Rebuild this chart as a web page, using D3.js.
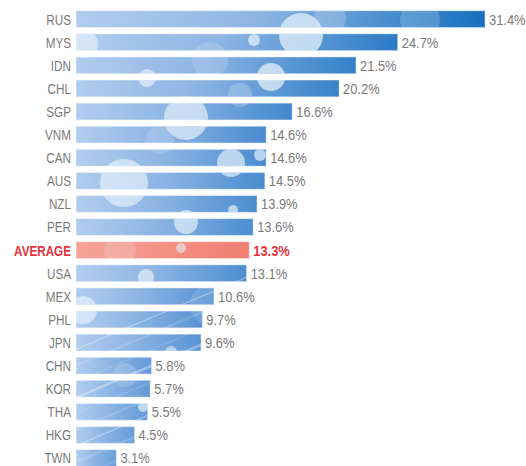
<!DOCTYPE html>
<html>
<head>
<meta charset="utf-8">
<script src="https://cdn.jsdelivr.net/npm/d3@7"></script>
<style>
  body { margin: 0; background: #fff; }
  text { font-family: "Liberation Sans", Arial, sans-serif; }
</style>
</head>
<body>
<div id="chart"></div>
<script>
const countries = ['RUS', 'MYS', 'IDN', 'CHL', 'SGP', 'VNM', 'CAN', 'AUS', 'NZL', 'PER', 'AVERAGE', 'USA', 'MEX', 'PHL', 'JPN', 'CHN', 'KOR', 'THA', 'HKG', 'TWN']
const values = [31.4, 24.7, 21.5, 20.2, 16.6, 14.6, 14.6, 14.5, 13.9, 13.6, 13.3, 13.1, 10.6, 9.7, 9.6, 5.8, 5.7, 5.5, 4.5, 3.1]
const highlight = 'AVERAGE'

const width = 526
const height = 466

const data = countries.map(function(c, i) {
  return { country: c, value: values[i] }
})

const xScale = d3.scaleLinear().domain([0, 31.4]).range([76, 485])
const yScale = d3.scaleBand().domain(countries).range([10.7, 466.5]).paddingInner(0.27).paddingOuter(0)
const endColor = d3.scaleLinear().domain([3, 31.4]).range(['#6c9edb', '#1670bf'])

const svg = d3.select('#chart').append('svg').attr('width', width).attr('height', height)
const defs = svg.append('defs')

// one gradient per bar, light on the left, deeper toward the end
data.forEach(function(d, i) {
  const g = defs.append('linearGradient').attr('id', 'grad' + i)
  if (d.country === highlight) {
    g.append('stop').attr('offset', '0%').attr('stop-color', '#f6a497')
    g.append('stop').attr('offset', '100%').attr('stop-color', '#f07e70')
  } else {
    g.append('stop').attr('offset', '0%').attr('stop-color', '#b1cdee')
    g.append('stop').attr('offset', '45%').attr('stop-color', '#8db5e4')
    g.append('stop').attr('offset', '100%').attr('stop-color', endColor(d.value))
  }
})

const clip = defs.append('clipPath').attr('id', 'barsClip')
clip.selectAll('rect').data(data).enter().append('rect')
  .attr('x', xScale(0))
  .attr('y', function(d) { return yScale(d.country) })
  .attr('width', function(d) { return xScale(d.value) - xScale(0) })
  .attr('height', yScale.bandwidth())

svg.selectAll('rect.bar').data(data)
    .enter()
  .append('rect')
    .attr('class', 'bar')
    .attr('x', xScale(0))
    .attr('y', function(d) { return yScale(d.country) })
    .attr('width', function(d) { return xScale(d.value) - xScale(0) })
    .attr('height', yScale.bandwidth())
    .attr('fill', function(d, i) { return 'url(#grad' + i + ')' })
    .attr('stroke', 'rgba(255,255,255,0.45)')
    .attr('stroke-width', 1)

// bokeh texture on top of the bars (pure decoration)
const deco = svg.append('g').attr('clip-path', 'url(#barsClip)')
const streakX = d3.range(-200, 560, 38)
deco.selectAll('line').data(streakX).enter().append('line')
  .attr('x1', function(d) { return d })
  .attr('y1', height)
  .attr('x2', function(d) { return d + 900 })
  .attr('y2', height - 380)
  .attr('stroke', '#fff')
  .attr('stroke-opacity', function(d, i) { return i % 3 === 0 ? 0.35 : 0.15 })
  .attr('stroke-width', function(d, i) { return i % 2 === 0 ? 1.2 : 2.5 })

const bokeh = [
  [301, 35, 22, 0.75], [254, 40, 6, 0.75], [271, 77, 14, 0.75], [147, 78, 9, 0.7],
  [84, 44, 14, 0.7], [186, 118, 22, 0.7], [231, 163, 14, 0.7], [260, 155, 6, 0.7],
  [124, 183, 24, 0.7], [186, 222, 12, 0.7], [233, 210, 5, 0.7], [181, 248, 5, 0.6],
  [146, 277, 8, 0.7], [83, 310, 14, 0.7], [171, 352, 6, 0.6], [143, 407, 5, 0.7],
  [330, 18, 16, 0.25], [420, 20, 20, 0.2], [210, 60, 18, 0.2], [120, 250, 16, 0.2],
  [210, 305, 20, 0.15], [125, 375, 12, 0.2], [240, 95, 12, 0.25], [160, 140, 14, 0.2]
]
deco.selectAll('circle').data(bokeh).enter().append('circle')
  .attr('cx', function(d) { return d[0] })
  .attr('cy', function(d) { return d[1] })
  .attr('r', function(d) { return d[2] })
  .attr('fill', '#e4f0fa')
  .attr('fill-opacity', function(d) { return d[3] })

// labels are squeezed horizontally to imitate a condensed face
function labelColor(d) { return d.country === highlight ? '#e8323c' : '#7a7a7a' }
function labelWeight(d) { return d.country === highlight ? 'bold' : 'normal' }

svg.selectAll('text.cat').data(data).enter().append('text')
  .attr('class', 'cat')
  .attr('transform', function(d) {
    return 'translate(71,' + (yScale(d.country) + yScale.bandwidth() / 2) + ') scale(0.78,1)'
  })
  .attr('dy', '0.36em')
  .attr('text-anchor', 'end')
  .attr('font-size', '15px')
  .attr('font-weight', labelWeight)
  .attr('fill', labelColor)
  .text(function(d) { return d.country })

svg.selectAll('text.val').data(data).enter().append('text')
  .attr('class', 'val')
  .attr('transform', function(d) {
    return 'translate(' + (xScale(d.value) + 4) + ',' + (yScale(d.country) + yScale.bandwidth() / 2) + ') scale(0.86,1)'
  })
  .attr('dy', '0.36em')
  .attr('font-size', '15px')
  .attr('font-weight', labelWeight)
  .attr('fill', labelColor)
  .text(function(d) { return d3.format('.1f')(d.value) + '%' })
</script>
</body>
</html>
